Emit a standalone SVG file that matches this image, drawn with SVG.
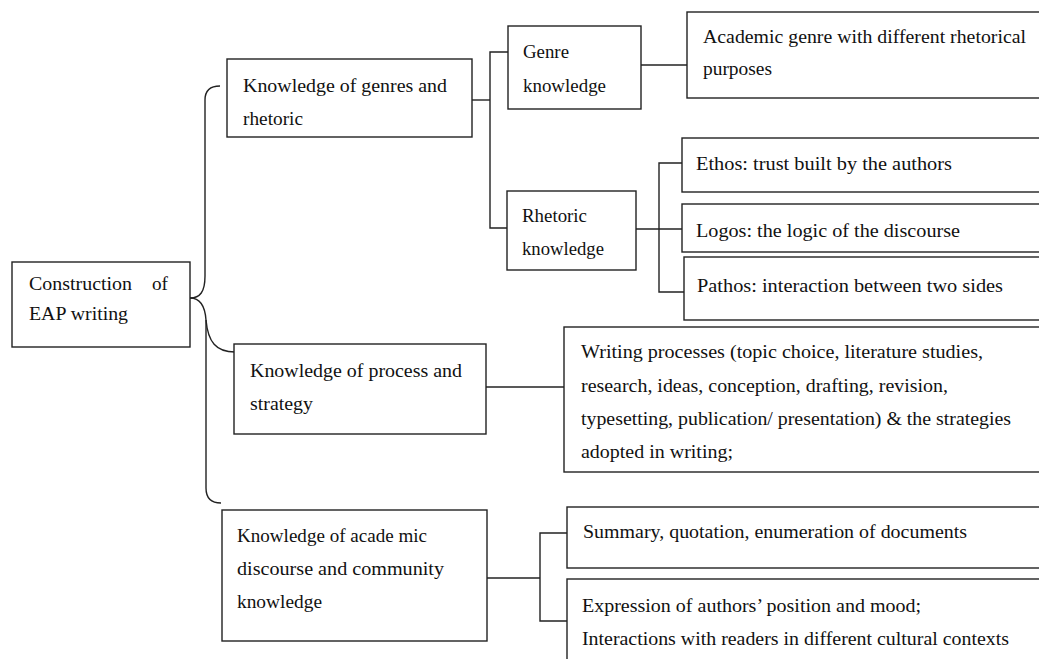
<svg xmlns="http://www.w3.org/2000/svg" width="1039" height="659" viewBox="0 0 1039 659">
<style>
rect{fill:#fff;stroke:#222;stroke-width:1.4}
.c path,.c line{fill:none;stroke:#222;stroke-width:1.4}
.t text{font-size:19px;fill:#111}
</style>
<rect x="0" y="0" width="1039" height="659" style="stroke:none"/>
<g class="c" id="connectors">
<path d="M190,298 C200,298 205,292 205,276 L205,100 C205,90 210,86 220,86"/>
<path d="M190,298 C200,298 205,306 206,320 C208,342 216,352 235,352"/>
<path d="M206,320 L206,488 C206,498 211,503 221,503"/>
<line x1="472" y1="100" x2="490" y2="100"/>
<path d="M508,52 H490 V228 H508"/>
<line x1="641" y1="65" x2="687" y2="65"/>
<line x1="636" y1="229" x2="682" y2="229"/>
<path d="M682,163 H659 V292 H684"/>
<line x1="486" y1="387" x2="564" y2="387"/>
<line x1="487" y1="578" x2="540" y2="578"/>
<path d="M567,533 H540 V621 H567"/>
</g>
<g class="t" font-family="'Liberation Serif', 'DejaVu Serif', serif">
<g id="root"><rect x="12" y="262" width="178" height="85"/><text x="29" y="290" textLength="103" lengthAdjust="spacingAndGlyphs">Construction</text><text x="152" y="290" textLength="16" lengthAdjust="spacingAndGlyphs">of</text><text x="29" y="320" textLength="99" lengthAdjust="spacingAndGlyphs">EAP writing</text></g>
<g id="genres-rhetoric"><rect x="227" y="59" width="245" height="78"/><text x="243" y="92" textLength="204" lengthAdjust="spacingAndGlyphs">Knowledge of genres and</text><text x="243" y="125" textLength="60" lengthAdjust="spacingAndGlyphs">rhetoric</text></g>
<g id="genre"><rect x="508" y="26" width="133" height="83"/><text x="523" y="58" textLength="46" lengthAdjust="spacingAndGlyphs">Genre</text><text x="523" y="92" textLength="83" lengthAdjust="spacingAndGlyphs">knowledge</text></g>
<g id="academic-genre"><rect x="687" y="12" width="360" height="86"/><text x="703" y="43" textLength="323" lengthAdjust="spacingAndGlyphs">Academic genre with different rhetorical</text><text x="703" y="75" textLength="69" lengthAdjust="spacingAndGlyphs">purposes</text></g>
<g id="rhetoric"><rect x="507" y="191" width="129" height="79"/><text x="522" y="222" textLength="65" lengthAdjust="spacingAndGlyphs">Rhetoric</text><text x="522" y="255" textLength="82" lengthAdjust="spacingAndGlyphs">knowledge</text></g>
<g id="ethos"><rect x="682" y="138" width="365" height="54"/><text x="696" y="170" textLength="256" lengthAdjust="spacingAndGlyphs">Ethos: trust built by the authors</text></g>
<g id="logos"><rect x="682" y="204" width="365" height="48"/><text x="696" y="237" textLength="264" lengthAdjust="spacingAndGlyphs">Logos: the logic of the discourse</text></g>
<g id="pathos"><rect x="684" y="257" width="363" height="63"/><text x="697" y="292" textLength="306" lengthAdjust="spacingAndGlyphs">Pathos: interaction between two sides</text></g>
<g id="process-strategy"><rect x="234" y="344" width="252" height="90"/><text x="250" y="377" textLength="212" lengthAdjust="spacingAndGlyphs">Knowledge  of process and</text><text x="250" y="410" textLength="63" lengthAdjust="spacingAndGlyphs">strategy</text></g>
<g id="writing-processes"><rect x="564" y="327" width="483" height="145"/><text x="581" y="358" textLength="402" lengthAdjust="spacingAndGlyphs">Writing processes (topic choice, literature studies,</text><text x="581" y="392" textLength="367" lengthAdjust="spacingAndGlyphs">research, ideas, conception, drafting, revision,</text><text x="581" y="425" textLength="430" lengthAdjust="spacingAndGlyphs">typesetting, publication/ presentation) &amp; the strategies</text><text x="581" y="458" textLength="152" lengthAdjust="spacingAndGlyphs">adopted in writing;</text></g>
<g id="academic-discourse"><rect x="222" y="510" width="265" height="131"/><text x="237" y="542" textLength="190" lengthAdjust="spacingAndGlyphs">Knowledge of acade mic</text><text x="237" y="575" textLength="207" lengthAdjust="spacingAndGlyphs">discourse and community</text><text x="237" y="608" textLength="85" lengthAdjust="spacingAndGlyphs">knowledge</text></g>
<g id="summary"><rect x="567" y="507" width="480" height="61"/><text x="583" y="538" textLength="384" lengthAdjust="spacingAndGlyphs">Summary, quotation, enumeration of documents</text></g>
<g id="expression"><rect x="567" y="579" width="480" height="100"/><text x="582" y="612" textLength="339" lengthAdjust="spacingAndGlyphs">Expression of authors’ position and mood;</text><text x="582" y="645" textLength="427" lengthAdjust="spacingAndGlyphs">Interactions with readers in different cultural contexts</text></g>
</g>
</svg>
